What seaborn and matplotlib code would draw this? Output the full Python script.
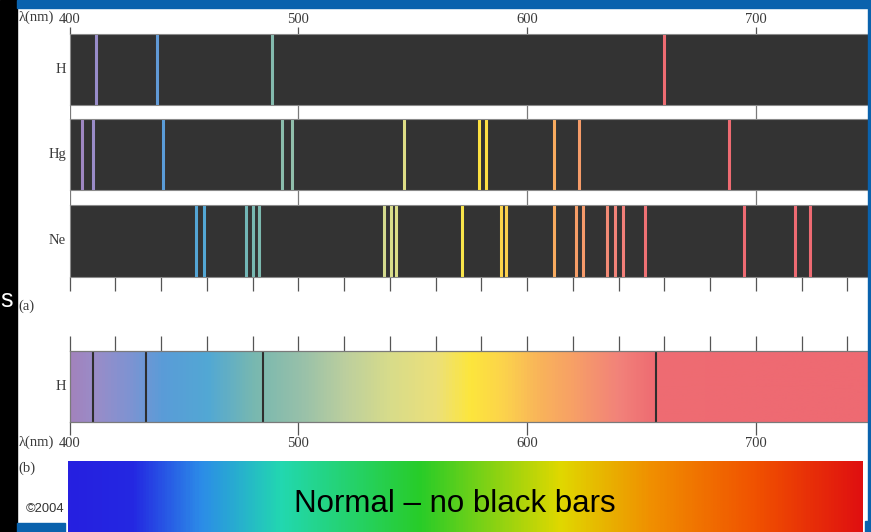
import numpy as np
import pandas as pd
import matplotlib.pyplot as plt
import seaborn as sns
from matplotlib.colors import LinearSegmentedColormap
from matplotlib.patches import Rectangle
from matplotlib.ticker import MultipleLocator

# emission lines (nm)
h_lines = [411.6, 438.2, 488.5, 659.8]
hg_lines = [405.3, 410.3, 441.0, 492.9, 497.1, 546.2, 579.1, 581.9, 611.9, 622.7, 688.4]
ne_lines = [455.3, 458.8, 477.0, 480.3, 482.8, 537.6, 540.4, 542.7, 571.4, 588.6,
            590.9, 611.9, 621.2, 624.4, 634.8, 638.3, 641.9, 651.5, 694.7, 717.1, 723.8]
h_absorption = [410.3, 433.4, 484.6, 656.4]
elements = ["H", "Hg", "Ne"]
major_ticks = [400, 500, 600, 700]

W, H = 871, 532
PX_PER_NM = 2.288
X400 = 69.5
WMAX = 400 + (W - X400) / PX_PER_NM

# wavelength -> pastel colour, as in the textbook figure
spec_anchors = [(400, "#a283bd"), (410, "#9a8cc8"), (425, "#7f93d2"), (440, "#5a9cd8"),
                (460, "#52a8d4"), (480, "#78b8b0"), (500, "#96c0aa"), (520, "#bccf9e"),
                (540, "#d8dc8a"), (560, "#ece07a"), (575, "#fde63c"), (590, "#fcd24c"),
                (605, "#f9b45a"), (620, "#f7a066"), (640, "#f2827a"), (655, "#ee6c72"),
                (700, "#ee6a72")]
spec_cmap = LinearSegmentedColormap.from_list(
    "spec", [((w - 400) / (WMAX - 400), c) for w, c in spec_anchors] + [(1.0, "#ee6a72")])

rainbow_cmap = LinearSegmentedColormap.from_list(
    "rb", [(0.0, "#2620e0"), (0.08, "#2428e2"), (0.166, "#2c8ce8"), (0.267, "#22d8b0"),
           (0.443, "#28cc28"), (0.62, "#e0d800"), (0.733, "#f09000"), (0.87, "#f05000"),
           (1.0, "#e01010")])


def wl_color(w):
    return spec_cmap((w - 400) / (WMAX - 400))


sns.set_theme(style="white")
plt.rcParams["font.family"] = ["Liberation Serif", "DejaVu Serif"]

fig = plt.figure(figsize=(W / 100, H / 100), dpi=100)
fig.patch.set_facecolor("white")


def px_axes(x0, y0, x1, y1, **kw):
    return fig.add_axes([x0 / W, 1 - y1 / H, (x1 - x0) / W, (y1 - y0) / H], **kw)


tick_col = "#555555"
lbl_kw = dict(fontsize=10.5, color="#3a3a3a")

# ---- (a) frame with the 100 nm guide lines and ticks
frame = px_axes(X400, 34, W, 277)
frame.set_xlim(400, WMAX)
frame.set_ylim(0, 1)
frame.patch.set_alpha(0)
for s in frame.spines.values():
    s.set_visible(False)
frame.vlines(major_ticks, 0, 1, color="#7a7a7a", lw=0.9)
frame.set_yticks([])
frame.xaxis.set_major_locator(MultipleLocator(100))
frame.xaxis.set_minor_locator(MultipleLocator(20))
frame.xaxis.remove_overlapping_locs = False
frame.tick_params(which="major", top=True, bottom=False, labeltop=True, labelbottom=False,
                  length=5, width=0.9, color=tick_col, direction="out", pad=1, labelsize=10.5,
                  labelcolor="#3a3a3a")
frame.tick_params(which="minor", top=False, bottom=True, length=10, width=0.9,
                  color=tick_col, direction="out")
frame.set_xticks(major_ticks)
frame.set_xticklabels([str(t) for t in major_ticks])

# ---- element rows
rows = {"H": (34, 105, h_lines), "Hg": (119, 190, hg_lines), "Ne": (205, 277, ne_lines)}
for name in elements:
    y0, y1, lines = rows[name]
    ax = px_axes(X400, y0, W, y1)
    ax.set_facecolor("#333333")
    df = pd.DataFrame({"wl": lines})
    sns.rugplot(data=df, x="wl", hue="wl", palette={w: wl_color(w) for w in lines},
                height=1, linewidth=2.2, legend=False, expand_margins=False, ax=ax)
    ax.set_xlim(400, WMAX)
    ax.set_ylim(0, 1)
    ax.set_xticks([])
    ax.set_yticks([])
    ax.set_xlabel("")
    for s in ax.spines.values():
        s.set_color("#8a8a8a")
        s.set_linewidth(0.8)
    fig.text(66 / W, 1 - (y0 + y1) / 2 / H, name, ha="right", va="center", **lbl_kw)

# ---- H absorption-style continuous band
band = px_axes(X400, 351, W, 422)
grad = np.linspace(400, WMAX, 800)[None, :]
band.imshow((grad - 400) / (WMAX - 400), cmap=spec_cmap, aspect="auto",
            extent=(400, WMAX, 0, 1), vmin=0, vmax=1)
band.vlines(h_absorption, 0, 1, color="#2e2e2e", lw=1.5)
band.set_xlim(400, WMAX)
band.set_ylim(0, 1)
band.set_yticks([])
band.xaxis.set_minor_locator(MultipleLocator(20))
band.xaxis.remove_overlapping_locs = False
band.set_xticks(major_ticks)
band.set_xticklabels([str(t) for t in major_ticks])
band.tick_params(which="major", bottom=True, top=False, length=9, width=0.9, color=tick_col,
                 direction="out", pad=2, labelsize=10.5, labelcolor="#3a3a3a")
band.tick_params(which="minor", top=True, bottom=False, length=11, width=0.9,
                 color=tick_col, direction="out")
for s in band.spines.values():
    s.set_color("#7a7a7a")
    s.set_linewidth(0.9)
fig.text(66 / W, 1 - 386 / H, "H", ha="right", va="center", **lbl_kw)

# ---- (b) normal continuous spectrum
rb = px_axes(68, 461, 862, 540)
rb.imshow(np.linspace(0, 1, 600)[None, :], cmap=rainbow_cmap, aspect="auto",
          extent=(0, 1, 0, 1))
rb.set_axis_off()
rb.text(0.487, 0.45, "Normal \u2013 no black bars", transform=rb.transAxes, ha="center",
        va="center", fontsize=22.5, color="black", family=["Liberation Sans", "DejaVu Sans"])

# ---- slide decorations and panel labels
ov = fig.add_axes([0, 0, 1, 1], zorder=10)
ov.set_xlim(0, W)
ov.set_ylim(H, 0)
ov.set_axis_off()
ov.patch.set_alpha(0)
ov.add_patch(Rectangle((0, 0), 17, H, color="black"))
ov.add_patch(Rectangle((17, 0), W - 17, 8, color="#0a62ad"))
ov.add_patch(Rectangle((17, 523), 48, 9, color="#0a62ad"))
ov.add_patch(Rectangle((868, 0), 3, H, color="#0a62ad"))
ov.add_patch(Rectangle((865, 521), 6, 11, color="#0a62ad"))
ov.text(0, 300, "s", ha="left", va="center", fontsize=18, color="white",
        family=["Liberation Sans", "DejaVu Sans"])
ov.text(54, 17, "\u03bb(nm)", ha="right", va="center", **lbl_kw)
ov.text(54, 442, "\u03bb(nm)", ha="right", va="center", **lbl_kw)
ov.text(18, 306, "(a)", ha="left", va="center", **lbl_kw)
ov.text(18, 468, "(b)", ha="left", va="center", **lbl_kw)
ov.text(26, 509, "\u00a92004", ha="left", va="center", fontsize=9.3, color="#333333",
        family=["Liberation Sans", "DejaVu Sans"])

fig.savefig("out.png", dpi=100)
